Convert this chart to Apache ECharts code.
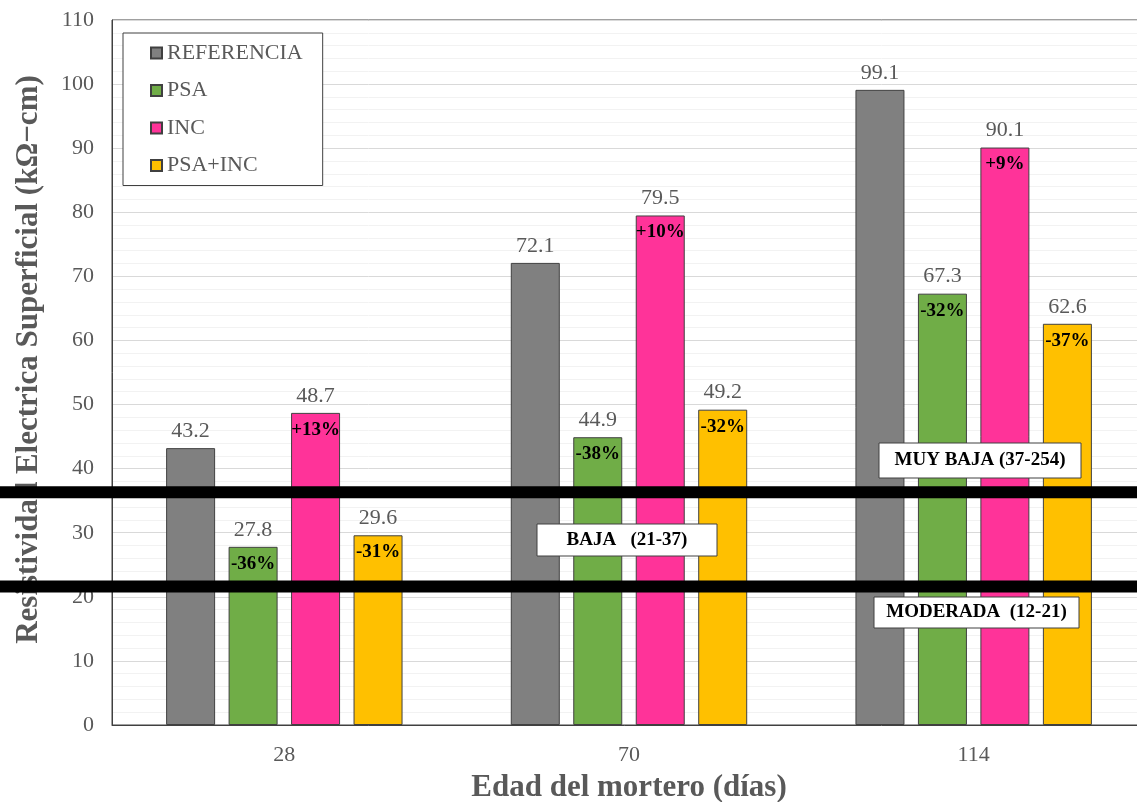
<!DOCTYPE html>
<html>
<head>
<meta charset="utf-8">
<script src="https://cdn.jsdelivr.net/npm/echarts@6/dist/echarts.min.js"></script>
<style>html,body{margin:0;padding:0;background:#fff;overflow:hidden;}#c{width:1137px;height:802px;}</style>
</head>
<body>
<div id="c"></div>
<script>
const categories = ['28', '70', '114'];
const seriesNames = ['REFERENCIA', 'PSA', 'INC', 'PSA+INC'];
const referencia = [43.2, 72.1, 99.1];
const psa = [27.8, 44.9, 67.3];
const inc = [48.7, 79.5, 90.1];
const psaInc = [29.6, 49.2, 62.6];
const referenciaPct = ['', '', ''];
const psaPct = ['-36%', '-38%', '-32%'];
const incPct = ['+13%', '+10%', '+9%'];
const psaIncPct = ['-31%', '-32%', '-37%'];
const yTicks = [0, 10, 20, 30, 40, 50, 60, 70, 80, 90, 100, 110];
const limitLines = [36.3, 21.6];
const zoneLabels = ['MUY BAJA (37-254)', 'BAJA   (21-37)', 'MODERADA  (12-21)'];

const colors = ['#808080', '#70AD47', '#FF3399', '#FFC000'];
const serif = '"Liberation Serif", "Times New Roman", serif';
const allData = [referencia, psa, inc, psaInc];
const allPct = [referenciaPct, psaPct, incPct, psaIncPct];

const chart = echarts.init(document.getElementById('c'), null, {renderer: 'canvas'});

const series = seriesNames.map((name, i) => ({
  name: name,
  type: 'bar',
  data: allData[i],
  barWidth: 49,
  barGap: '27.5%',
  itemStyle: {color: colors[i], borderColor: '#404040', borderWidth: 1},
  label: {
    show: true,
    position: 'insideTop',
    distance: 0,
    offset: [0, -34],
    formatter: p => '{v|' + p.value.toFixed(1) + '}\n{p|' + (allPct[i][p.dataIndex] || ' ') + '}',
    rich: {
      v: {fontFamily: serif, fontSize: 22, color: '#595959', lineHeight: 34, align: 'center'},
      p: {fontFamily: serif, fontSize: 19, fontWeight: 'bold', color: '#000', lineHeight: 34, align: 'center'}
    }
  },
  z: 2
}));

chart.setOption({
  animation: false,
  backgroundColor: '#fff',
  grid: {left: 112, right: -9, top: 20, bottom: 77, outerBoundsMode: 'none', containLabel: false, show: true, borderColor: '#404040', borderWidth: 1, backgroundColor: 'transparent'},
  legend: {
    orient: 'vertical',
    left: 123, top: 33,
    padding: [9, 20, 9, 27],
    itemWidth: 11, itemHeight: 11,
    itemGap: 15.5,
    icon: 'rect',
    borderColor: '#404040', borderWidth: 1,
    backgroundColor: '#fff',
    textStyle: {fontFamily: serif, fontSize: 22, color: '#595959', lineHeight: 22},
    data: seriesNames
  },
  xAxis: {
    type: 'category',
    data: categories,
    axisLine: {show: true, lineStyle: {color: '#404040', width: 1}},
    axisTick: {show: false},
    axisLabel: {fontFamily: serif, fontSize: 22, color: '#595959', margin: 19},
    name: 'Edad del mortero (días)',
    nameLocation: 'middle',
    nameGap: 47,
    nameTextStyle: {fontFamily: serif, fontSize: 31, fontWeight: 'bold', color: '#595959'}
  },
  yAxis: {
    type: 'value',
    min: yTicks[0], max: yTicks[yTicks.length - 1], interval: 10,
    axisLine: {show: true, lineStyle: {color: '#404040', width: 1}},
    axisTick: {show: false},
    axisLabel: {fontFamily: serif, fontSize: 22, color: '#595959', margin: 18},
    splitLine: {show: true, lineStyle: {color: '#d9d9d9', width: 1}},
    minorTick: {show: false, splitNumber: 5},
    minorSplitLine: {show: true, lineStyle: {color: '#f2f2f2', width: 1}},
    name: 'Resistividad Electrica Superficial (kΩ−cm)',
    nameLocation: 'middle',
    nameGap: 68,
    nameTextStyle: {fontFamily: serif, fontSize: 31, fontWeight: 'bold', color: '#595959', padding: [0, 0, 0, 26]}
  },
  series: series
});

const W = chart.getWidth();
const yPix = limitLines.map(v => chart.convertToPixel({yAxisIndex: 0}, v));
const box = (x, y, w, h, text) => ([
  {type: 'rect', z: 30, shape: {x: x, y: y, width: w, height: h}, style: {fill: '#fff', stroke: '#404040', lineWidth: 1}},
  {type: 'text', z: 31, style: {x: x + w / 2, y: y + h / 2, text: text, align: 'center', verticalAlign: 'middle', fill: '#000', font: 'bold 19px ' + serif}}
]);
chart.setOption({
  graphic: [
    {type: 'line', z: 20, shape: {x1: 0, y1: yPix[0], x2: W, y2: yPix[0]}, style: {stroke: '#000', lineWidth: 12}},
    {type: 'line', z: 20, shape: {x1: 0, y1: yPix[1], x2: W, y2: yPix[1]}, style: {stroke: '#000', lineWidth: 12}}
  ].concat(box(879, 443, 202, 35, zoneLabels[0]), box(537, 524, 180, 32, zoneLabels[1]), box(874, 597, 205, 31, zoneLabels[2]))
});
</script>
</body>
</html>
